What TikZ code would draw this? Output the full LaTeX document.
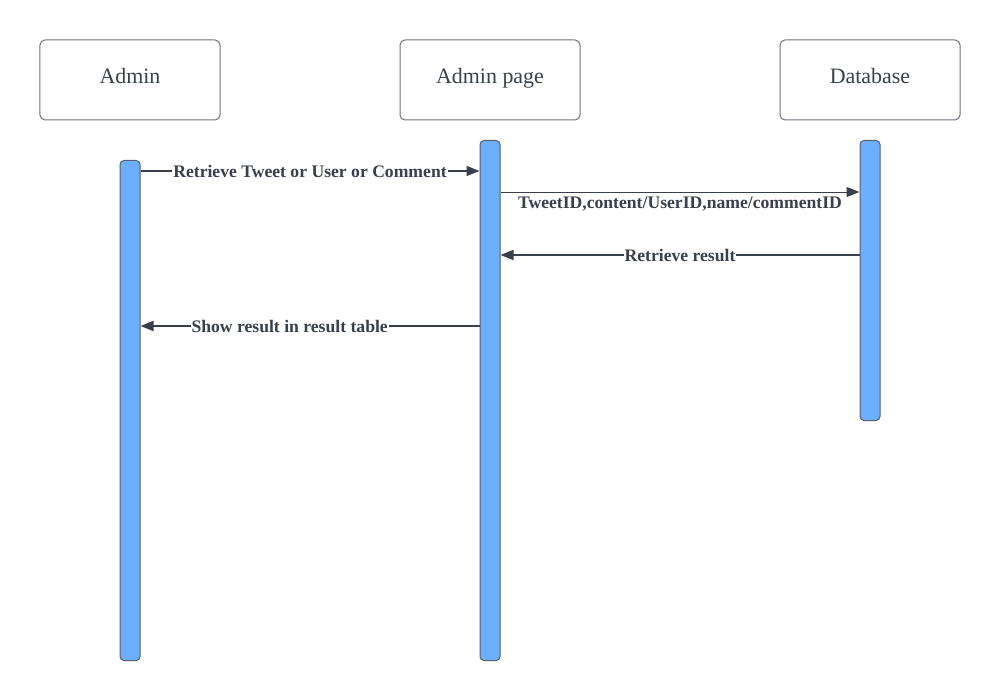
\documentclass[tikz,border=0pt]{standalone}
\usepackage{fontspec}
\setmainfont{Liberation Serif}
\usetikzlibrary{arrows.meta}
\definecolor{inkc}{RGB}{58,64,75}
\definecolor{boxline}{RGB}{110,114,122}
\definecolor{barfill}{RGB}{108,174,255}
\definecolor{barline}{RGB}{86,94,108}
\tikzset{
  actor/.style={draw=boxline, line width=1bp, rounded corners=5bp, minimum width=180bp, minimum height=80bp, inner sep=0pt, text=inkc, text height=14bp, text depth=6bp, font=\fontsize{22}{26}\selectfont},
  lifebar/.style={draw=barline, fill=barfill, line width=1bp, rounded corners=4bp, minimum width=20bp, inner sep=0pt, anchor=north},
  msg/.style={draw=inkc, line width=1.6bp, -{Triangle[length=13bp,width=10bp]}},
  msgthin/.style={draw=inkc, line width=1bp, -{Triangle[length=13bp,width=10bp]}},
  lbl/.style={fill=white, inner sep=1bp, text=inkc, font=\fontsize{17.7}{20}\selectfont\bfseries}
}
\begin{document}
\begin{tikzpicture}[x=1bp,y=-1bp]
\useasboundingbox (0,0) rectangle (1000,700);
\node[actor] (admin) at (130,80) {Admin};
\node[actor] (page) at (490,80) {Admin page};
\node[actor] (db) at (870,80) {Database};
\node[lifebar, minimum height=500bp] (abar) at (130,160) {};
\node[lifebar, minimum height=520bp] (pbar) at (490,140) {};
\node[lifebar, minimum height=280bp] (dbar) at (870,140) {};
\coordinate (y1) at (0,171);
\coordinate (y2) at (0,192);
\coordinate (y3) at (0,255);
\coordinate (y4) at (0,326);
\draw[msg] (abar.east |- y1) -- node[lbl, pos=0.5] {Retrieve Tweet or User or Comment} (pbar.west |- y1);
\draw[msgthin] (pbar.east |- y2) -- node[lbl, below=3bp, fill=none, pos=0.5] {TweetID,content/UserID,name/commentID} (dbar.west |- y2);
\draw[msg] (dbar.west |- y3) -- node[lbl, pos=0.5] {Retrieve result} (pbar.east |- y3);
\draw[msg] (pbar.west |- y4) -- node[lbl, pos=0.56] {Show result in result table} (abar.east |- y4);
\end{tikzpicture}
\end{document}
